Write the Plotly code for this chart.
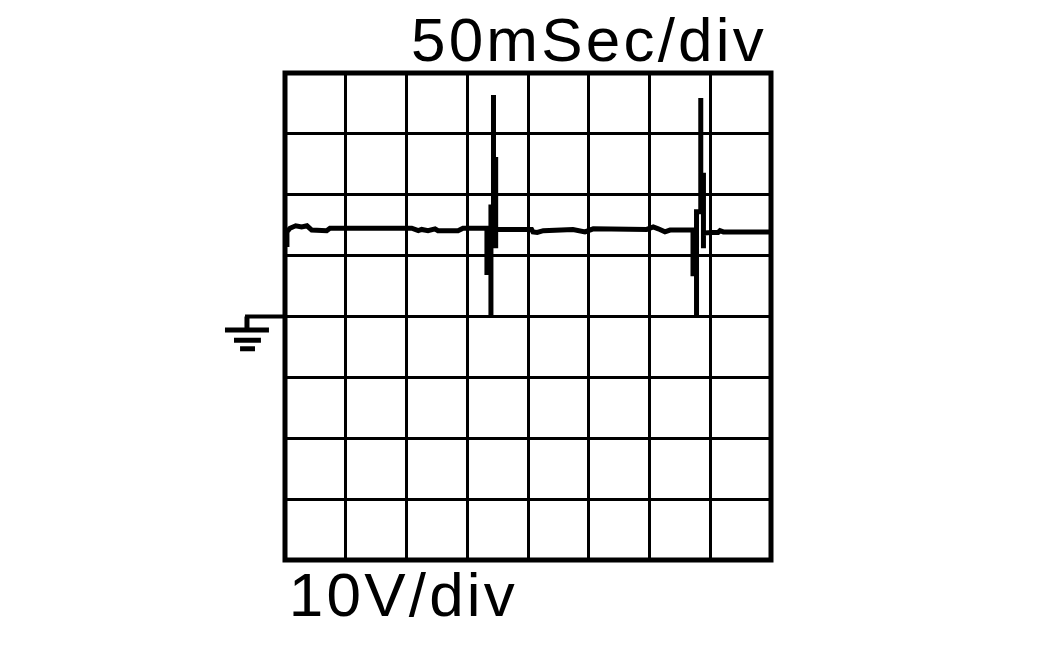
import plotly.graph_objects as go

time_ms = [1.6,1.6,4.1,8.8,13.7,18.1,22.0,34.3,37.0,100.2,104.3,109.7,112.5,117.7,123.5,125.9,142.4,146.5,164.6,
           166.2,166.2,166.2,169.5,169.5,169.5,171.6,171.6,171.6,173.4,173.4,173.4,173.4,175.3,
           203.0,204.1,207.6,212.6,234.6,237.0,246.9,251.0,253.7,297.7,303.1,307.2,312.7,316.9,333.3,
           335.8,335.8,335.8,338.7,338.7,338.7,342.2,342.2,342.2,344.4,344.4,344.4,344.4,
           351.2,356.4,358.0,360.8,399.2]
volts = [11.4,13.9,14.5,14.9,14.7,14.9,14.2,14.1,14.5,14.4,14.5,14.1,14.3,14.1,14.4,14.1,14.1,14.5,14.5,
         14.5,6.8,10.9,10.9,0.1,18.0,18.0,36.4,19.1,19.1,26.2,11.2,14.3,14.3,
         14.3,13.9,13.8,14.1,14.2,14.3,13.9,14.1,14.4,14.3,14.7,14.4,13.9,14.2,14.2,
         14.2,6.6,10.9,10.9,0.1,17.2,17.2,35.9,18.3,18.3,23.6,11.2,13.7,
         13.8,13.8,14.1,13.9,13.9]

# ground symbol: (t0, t1, v0, v1, width)
gnd_t0 = [-32.9,-31.3,-49.4,-42.0,-37.0]
gnd_t1 = [0.0,-31.3,-13.2,-19.8,-24.7]
gnd_v0 = [0.0,0.0,-2.2,-3.9,-5.3]
gnd_v1 = [0.0,-2.2,-2.2,-3.9,-5.3]
gnd_w = [4,5,5,5,5]

T_RANGE = [0,400]
V_RANGE = [-40,40]
time_label = "50mSec/div"
volt_label = "10V/div"
FONT = "Liberation Sans"

def px(t): return (t-T_RANGE[0])/(T_RANGE[1]-T_RANGE[0])
def py(v): return (v-V_RANGE[0])/(V_RANGE[1]-V_RANGE[0])

fig = go.Figure()
fig.add_trace(go.Scatter(x=time_ms,y=volts,mode="lines",line=dict(color="black",width=5),
                         showlegend=False,hoverinfo="skip"))
axis = dict(showgrid=True,gridcolor="black",gridwidth=3,zeroline=False,showline=False,
            showticklabels=False,ticks="")
fig.update_xaxes(range=T_RANGE,dtick=50,tick0=0,**axis)
fig.update_yaxes(range=V_RANGE,dtick=10,tick0=-40,**axis)
fig.add_shape(type="rect",xref="paper",yref="paper",x0=0,x1=1,y0=0,y1=1,line=dict(color="black",width=5),layer="above")
for t0,t1,v0,v1,w in zip(gnd_t0,gnd_t1,gnd_v0,gnd_v1,gnd_w):
    fig.add_shape(type="line",xref="paper",yref="paper",x0=px(t0),x1=px(t1),y0=py(v0),y1=py(v1),
                  line=dict(color="black",width=w))
fig.add_annotation(text=time_label,xref="paper",yref="paper",x=0.6250,y=1,yshift=-2,xanchor="center",yanchor="bottom",
                   showarrow=False,font=dict(family=FONT,size=62,color="black"),borderpad=0)
fig.add_annotation(text=volt_label,xref="paper",yref="paper",x=0.2440,y=0,yshift=1,xanchor="center",yanchor="top",
                   showarrow=False,font=dict(family=FONT,size=62,color="black"),borderpad=0)
fig.update_layout(width=1052,height=650,margin=dict(l=284.5,r=281,t=73,b=90,pad=0),
                  plot_bgcolor="white",paper_bgcolor="white",showlegend=False)
fig.write_html("out.html",config={"displayModeBar":False},
               post_script="document.body.style.margin='0';document.querySelectorAll('.annotation-text').forEach(function(e){e.style.letterSpacing='3.2px';});")
